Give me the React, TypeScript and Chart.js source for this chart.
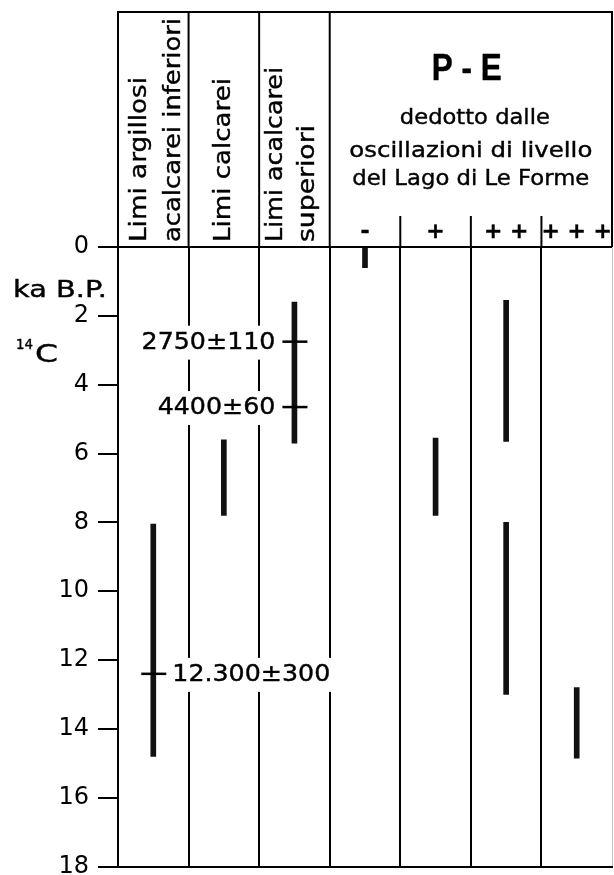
import React, { useEffect, useRef } from "react";
import { Chart, registerables } from "chart.js";

Chart.register(...registerables);

// ---------- data ----------
const columns = [
  "Limi argillosi acalcarei inferiori",
  "Limi calcarei",
  "Limi acalcarei superiori",
  "-",
  "+",
  "+ +",
  "+ + +",
];
// age ranges (ka B.P., 14C) of each column's bar
const rangesMain: ([number, number] | null)[] = [
  [8.05, 14.8],
  [5.6, 7.8],
  [1.6, 5.7],
  [0, 0.6],
  [5.55, 7.8],
  [1.55, 5.65],
  [12.8, 14.85],
];
const rangesSecond: ([number, number] | null)[] = [null, null, null, null, null, [8.0, 13.0], null];

const dateLabels = ["2750±110", "4400±60", "12.300±300"];
const dateAges = [2.75, 4.65, 12.4];
const dateColumns = [2, 2, 0];
const dateLabelSide = ["left", "left", "right"];

const yMin = 0;
const yMax = 18;
const yStep = 2;
const yUnit = "ka B.P.";

const stratHeaders: string[][] = [
  ["Limi argillosi", "acalcarei inferiori"],
  ["Limi calcarei"],
  ["Limi acalcarei", "superiori"],
];
const peLevels = ["-", "+", "+ +", "+ + +"];
const peTitle = "P - E";
const peSubtitle = ["dedotto dalle", "oscillazioni di livello", "del Lago di Le Forme"];

const FONT = "DejaVu Sans";

function drawText(
  ctx: CanvasRenderingContext2D,
  text: string,
  x: number,
  y: number,
  opts: {
    font: string;
    align?: CanvasTextAlign;
    baseline?: CanvasTextBaseline;
    width?: number;
    stretch?: number;
    rotate?: boolean;
  }
) {
  ctx.save();
  ctx.font = opts.font;
  ctx.fillStyle = "#000";
  ctx.strokeStyle = "#000";
  ctx.lineWidth = 0.4;
  ctx.textAlign = opts.align ?? "left";
  ctx.textBaseline = opts.baseline ?? "alphabetic";
  ctx.translate(x, y);
  if (opts.rotate) ctx.rotate(-Math.PI / 2);
  const w = ctx.measureText(text).width;
  const s = opts.width ? opts.width / w : opts.stretch ?? 1;
  ctx.scale(s, 1);
  ctx.fillText(text, 0, 0);
  ctx.strokeText(text, 0, 0);
  ctx.restore();
  return w * s;
}

function line(ctx: CanvasRenderingContext2D, x1: number, y1: number, x2: number, y2: number, w = 2, c = "#000") {
  ctx.save();
  ctx.strokeStyle = c;
  ctx.lineWidth = w;
  ctx.beginPath();
  ctx.moveTo(x1, y1);
  ctx.lineTo(x2, y2);
  ctx.stroke();
  ctx.restore();
}

const headerPlugin = {
  id: "headerPlugin",
  afterDraw(chart: any) {
    const { ctx, chartArea, scales } = chart;
    const xs = scales.x;
    const ys = scales.y;
    const bound = (i: number) => xs.getPixelForValue(i - 0.5);
    const center = (i: number) => xs.getPixelForValue(i);
    const top = 12;
    const n = columns.length;

    // header frame
    line(ctx, bound(0) - 1, top, bound(n) + 1, top);
    [0, 1, 2, 3, n].forEach((i) => line(ctx, bound(i), top, bound(i), chartArea.top));
    [4, 5, 6].forEach((i) => line(ctx, bound(i), 216, bound(i), chartArea.top));

    // rotated stratigraphic headers
    const rotOffsets = [[-7, 27], [6], [-12, 20]];
    const rotWidths = [[165, 224], [164], [175, 117]];
    stratHeaders.forEach((lines, ci) => {
      lines.forEach((t, li) => {
        drawText(ctx, t, center(ci) + rotOffsets[ci][li], chartArea.top - 5, {
          font: `23px "${FONT}"`,
          rotate: true,
          width: rotWidths[ci][li],
        });
      });
    });

    // P-E header
    const peCenter = (bound(3) + bound(n)) / 2;
    drawText(ctx, peTitle, peCenter - 4, 80, {
      font: `bold 36px "Liberation Sans"`,
      align: "center",
      width: 70,
    });
    const subW = [150, 243, 237];
    const subY = [124, 157, 185];
    peSubtitle.forEach((t, i) => {
      drawText(ctx, t, peCenter + (i === 0 ? 4 : 0), subY[i], {
        font: `22px "${FONT}"`,
        align: "center",
        width: subW[i],
      });
    });
    peLevels.forEach((t, i) => {
      drawText(ctx, t, center(3 + i), 232, {
        font: `bold 22px "${FONT}"`,
        align: "center",
        baseline: "middle",
      });
    });

    // y-axis unit labels
    drawText(ctx, yUnit, 13, 297, { font: `23px "${FONT}"`, width: 94 });
    drawText(ctx, "14", 16, 349, { font: `14px "${FONT}"`, width: 17 });
    drawText(ctx, "C", 35, 362, { font: `25px "${FONT}"`, width: 23 });

    // radiocarbon dates
    dateLabels.forEach((label, i) => {
      const yy = ys.getPixelForValue(dateAges[i]);
      const cx = center(dateColumns[i]);
      const font = `23px "${FONT}"`;
      ctx.save();
      ctx.font = font;
      const w = ctx.measureText(label).width * 1.1;
      ctx.restore();
      const crossL = cx - 12;
      const crossR = cx + 13;
      let tx0: number;
      let tx1: number;
      if (dateLabelSide[i] === "left") {
        tx1 = crossL - 7;
        tx0 = tx1 - w;
      } else {
        tx0 = crossR + 6;
        tx1 = tx0 + w;
      }
      ctx.save();
      ctx.fillStyle = "#fff";
      ctx.fillRect(tx0 - 8, yy - 16, w + 16, 34);
      ctx.restore();
      drawText(ctx, label, dateLabelSide[i] === "left" ? tx1 : tx0, yy + 1, {
        font,
        align: dateLabelSide[i] === "left" ? "right" : "left",
        baseline: "middle",
        stretch: 1.1,
      });
      line(ctx, crossL, yy, crossR, yy, 2.5);
    });
  },
};

export default function App() {
  const ref = useRef<HTMLCanvasElement | null>(null);

  useEffect(() => {
    if (!ref.current) return;
    const chart = new Chart(ref.current, {
      type: "bar",
      data: {
        labels: columns,
        datasets: [
          { data: rangesMain as any, backgroundColor: "#111", barThickness: 5, grouped: false, borderWidth: 0 },
          { data: rangesSecond as any, backgroundColor: "#111", barThickness: 5, grouped: false, borderWidth: 0 },
        ],
      },
      options: {
        responsive: false,
        animation: false,
        devicePixelRatio: 1,
        events: [],
        layout: { padding: { top: 247, bottom: 23, left: 0, right: 2 } },
        plugins: { legend: { display: false }, tooltip: { enabled: false }, title: { display: false } },
        scales: {
          x: {
            type: "category",
            offset: true,
            ticks: { display: false },
            grid: {
              offset: true,
              drawTicks: false,
              color: (c: any) => (c.tick === undefined ? "#c4c4c4" : "#000"),
              lineWidth: (c: any) => (c.tick === undefined ? 1 : 2),
            },
            border: { display: true, color: "#000", width: 2 },
            afterFit: (s: any) => { s.height = 0; },
          },
          y: {
            type: "linear",
            reverse: true,
            min: yMin,
            max: yMax,
            ticks: { stepSize: yStep, color: "#000", padding: 9, font: { family: FONT, size: 24 } },
            grid: {
              drawOnChartArea: true,
              color: (c: any) => c.tick && (c.tick.value === yMin || c.tick.value === yMax) ? "#000" : "rgba(0,0,0,0)",
              lineWidth: 2,
              tickLength: 20,
              tickColor: "#000",
              tickWidth: 2,
            },
            border: { display: true, color: "#000", width: 2 },
            afterFit: (s: any) => { s.width = 118; },
          },
        },
      } as any,
      plugins: [headerPlugin],
    });
    return () => chart.destroy();
  }, []);

  return (
    <div style={{ position: "absolute", left: 0, top: 0, width: 614, height: 875, overflow: "hidden", background: "#fff" }}>
      <canvas ref={ref} width={614} height={890} style={{ display: "block", width: 614, height: 890 }} />
    </div>
  );
}
